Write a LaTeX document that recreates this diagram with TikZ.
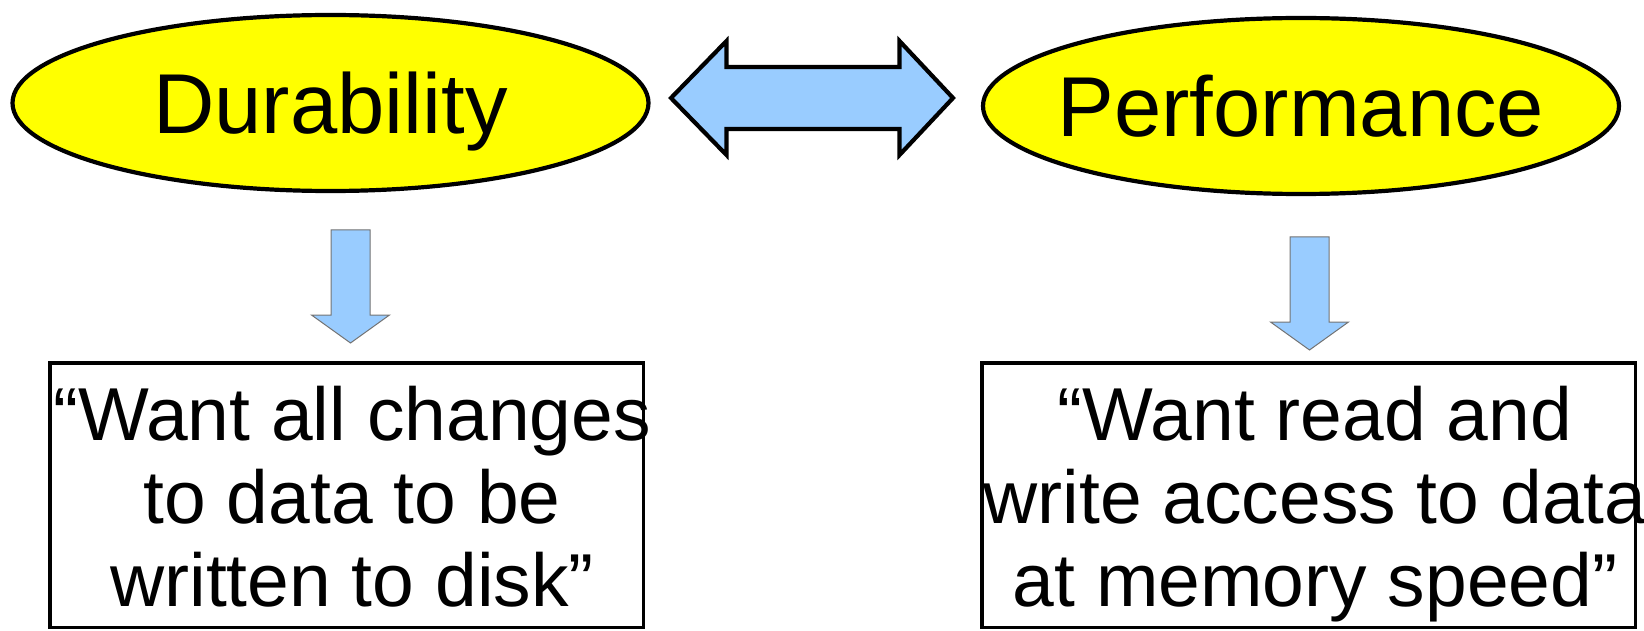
\documentclass[tikz,border=0pt]{standalone}
\usepackage{fontspec}
\setmainfont{Liberation Sans}
\usetikzlibrary{shapes.geometric}
\definecolor{ovalfill}{HTML}{FFFF00}
\definecolor{arrowfill}{HTML}{99CCFF}
\tikzset{
  oval/.style={ellipse, draw=black, line width=4.2pt, fill=ovalfill,
    inner xsep=-80pt, inner ysep=0pt, minimum width=636pt, minimum height=176pt,
    text height=62pt, text depth=0pt, font=\fontsize{85}{95}\selectfont},
  quotebox/.style={draw=black, line width=3.5pt, inner sep=0pt, minimum height=264.5pt},
  quotetext/.style={align=center, inner sep=0pt, font=\fontsize{75}{83}\selectfont},
  bigarrow/.style={draw=black, line width=4.2pt, fill=arrowfill, line join=miter},
  thinarrow/.style={draw=black!55, line width=1pt, fill=arrowfill},
  downarrow/.pic={
    \path[thinarrow] (-19.5,0) -- (19.5,0) -- (19.5,85) -- (39,85) -- (0,113)
      -- (-39,85) -- (-19.5,85) -- cycle;
  }
}
\begin{document}
\begin{tikzpicture}[x=1pt, y=-1pt]
  \useasboundingbox (0,0) rectangle (1644,631);

  % the two goals
  \node[oval] (dur)  at (330.5,103) {Durability};
  \node[oval] (perf) at (1301,106) {Performance};

  % trade-off between them
  \coordinate (tipL) at (671,98);
  \coordinate (tipR) at (953,98);
  \path[bigarrow] (tipL) -- (726.5,41) -- (726.5,67) -- (899.5,67) -- (899.5,41)
    -- (tipR) -- (899.5,155) -- (899.5,129) -- (726.5,129) -- (726.5,155) -- cycle;

  % what each goal asks for
  \node[quotebox, minimum width=593.5pt] (durbox)  at (346.5,495) {};
  \node[quotebox, minimum width=653.5pt] (perfbox) at (1308.5,495) {};

  \node[quotetext] (durtext) at (352,497)
    {“Want all changes\\to data to be\hspace*{.5em}\\written to disk”};
  \node[quotetext] (perftext) at (1315,504)
    {“Want read and\\write access to data\\at memory speed”};

  % goal leads to requirement
  \pic at (350.5,230) {downarrow};
  \pic at (1309.5,237) {downarrow};
\end{tikzpicture}
\end{document}
